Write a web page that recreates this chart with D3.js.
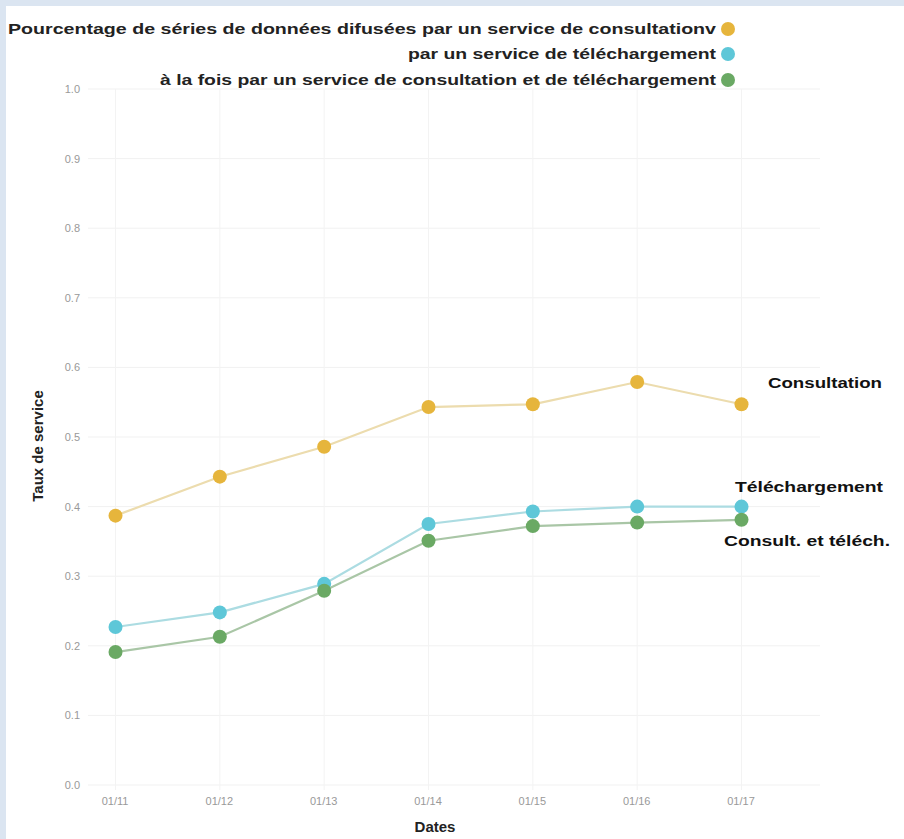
<!DOCTYPE html>
<html><head><meta charset="utf-8">
<script src="https://cdn.jsdelivr.net/npm/d3@7"></script>
<style>
html,body{margin:0;padding:0;background:#dbe5f1;}
svg{display:block;}
</style></head>
<body>
<script>
const dates = ["01/11","01/12","01/13","01/14","01/15","01/16","01/17"];
const consultation = [0.387, 0.443, 0.486, 0.543, 0.547, 0.579, 0.547];
const telechargement = [0.227, 0.248, 0.289, 0.375, 0.393, 0.400, 0.400];
const lesDeux = [0.191, 0.213, 0.279, 0.351, 0.372, 0.377, 0.381];
const yTicks = [0.0,0.1,0.2,0.3,0.4,0.5,0.6,0.7,0.8,0.9,1.0];
const legendLabels = [
  "Pourcentage de séries de données difusées par un service de consultationv",
  "par un service de téléchargement",
  "à la fois par un service de consultation et de téléchargement"
];
const endLabels = ["Consultation","Téléchargement","Consult. et téléch."];
const seriesColors = ["#e6b53c","#5ec7d8","#6aa964"];
const lineColors = ["#ecdcae","#acdce2","#a9c6a6"];

const W = 904, H = 839;
const svg = d3.select("body").append("svg").attr("width", W).attr("height", H);
svg.append("rect").attr("x",6).attr("y",6).attr("width",W-6).attr("height",H-6).attr("fill","#ffffff");

const x = d3.scalePoint().domain(dates).range([115.5, 741.5]);
const y = d3.scaleLinear().domain([0,1]).range([785, 89]);

const font = "'Liberation Sans',Arial,sans-serif";

// grid
const g = svg.append("g");
g.selectAll("line.h").data(yTicks).enter().append("line")
  .attr("x1", 88).attr("x2", 820).attr("y1", d=>y(d)).attr("y2", d=>y(d))
  .attr("stroke", "#f1f1f1").attr("stroke-width", 1);
g.selectAll("line.v").data(dates).enter().append("line")
  .attr("x1", d=>x(d)).attr("x2", d=>x(d)).attr("y1", 89).attr("y2", 790)
  .attr("stroke", "#f3f3f3").attr("stroke-width", 1);

// y axis
const yAxis = d3.axisLeft(y).tickValues(yTicks).tickFormat(d3.format(".1f")).tickSize(0).tickPadding(0);
const ya = svg.append("g").attr("transform","translate(80,0)").call(yAxis);
ya.select(".domain").remove();
ya.selectAll("text").attr("fill","#999").attr("font-family",font).attr("font-size",11);

// x axis
const xAxis = d3.axisBottom(x).tickSize(0).tickPadding(0);
const xa = svg.append("g").attr("transform","translate(-1,797)").call(xAxis);
xa.select(".domain").remove();
xa.selectAll("text").attr("fill","#999").attr("font-family",font).attr("font-size",11);

// axis titles
svg.append("text").attr("x",435).attr("y",832).attr("text-anchor","middle")
  .attr("font-family",font).attr("font-weight","bold").attr("font-size",15).attr("fill","#222").text("Dates");
svg.append("text").attr("transform","translate(43,446) rotate(-90)").attr("text-anchor","middle")
  .attr("font-family",font).attr("font-weight","bold").attr("font-size",15).attr("fill","#222").text("Taux de service");

// series
const allSeries = [consultation, telechargement, lesDeux];
const line = d3.line().x((d,i)=>x(dates[i])).y(d=>y(d));
allSeries.forEach((s,k)=>{
  svg.append("path").datum(s).attr("d", line).attr("fill","none")
    .attr("stroke", lineColors[k]).attr("stroke-width", 2.2);
});
allSeries.forEach((s,k)=>{
  svg.append("g").selectAll("circle").data(s).enter().append("circle")
    .attr("cx",(d,i)=>x(dates[i])).attr("cy",d=>y(d)).attr("r",7)
    .attr("fill",seriesColors[k]);
});

// legend
const legY = [29, 54, 80];
const legW = [708, 308, 556];
legendLabels.forEach((t,k)=>{
  svg.append("text").attr("x",716).attr("y",legY[k]+5).attr("text-anchor","end")
    .attr("font-family",font).attr("font-weight","bold").attr("font-size",15).attr("fill","#222")
    .attr("textLength", legW[k]).attr("lengthAdjust","spacingAndGlyphs").text(t);
  svg.append("circle").attr("cx",728).attr("cy",legY[k]).attr("r",7).attr("fill",seriesColors[k]);
});

// end labels
const endPos = [[768,388,114],[735,492,148],[724,546,166]];
endLabels.forEach((t,k)=>{
  svg.append("text").attr("x",endPos[k][0]).attr("y",endPos[k][1])
    .attr("font-family",font).attr("font-weight","bold").attr("font-size",14).attr("fill","#111")
    .attr("textLength", endPos[k][2]).attr("lengthAdjust","spacingAndGlyphs").text(t);
});
</script>
</body></html>
